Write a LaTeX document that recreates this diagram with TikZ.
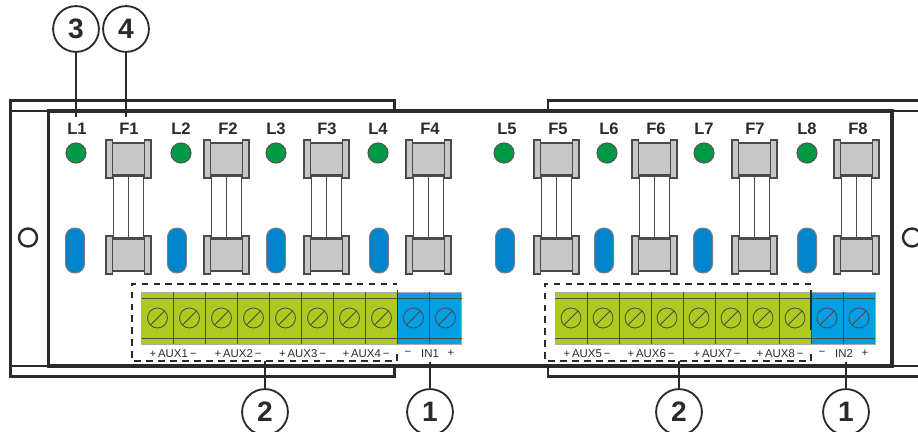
\documentclass[tikz,border=0pt]{standalone}
\usepackage{fontspec}
\setmainfont{Liberation Sans}
\definecolor{ink}{HTML}{2B2A29}
\definecolor{ledgreen}{HTML}{009A44}
\definecolor{pillblue}{HTML}{0085CC}
\definecolor{fusegray}{HTML}{C6C7C6}
\definecolor{termgreen}{HTML}{AFCA1E}
\definecolor{termblue}{HTML}{009FE3}
\tikzset{
  callout/.style={circle,draw=ink,line width=1.3pt,fill=white,minimum size=32.6pt,inner sep=0pt,font=\fontsize{20}{20}\selectfont\bfseries,text=ink},
  leader/.style={draw=ink,line width=1.2pt},
  thinframe/.style={draw=ink,line width=1.5pt},
  thickframe/.style={draw=ink,line width=2.6pt},
  tag/.style={font=\fontsize{11.8}{12}\selectfont\bfseries,text=ink,inner sep=0pt},
  small/.style={font=\fontsize{8.1}{8}\selectfont,text=ink,inner sep=0pt},
  led/.style={circle,draw=ink!80,line width=.8pt,fill=ledgreen,minimum size=14.2pt,inner sep=0pt},
  pill/.style={draw=ink!60,line width=.7pt,fill=pillblue,rounded corners=6.5pt},
  fusepart/.style={draw=ink!85,line width=1.2pt,fill=fusegray},
  tube/.style={draw=ink!85,line width=1.3pt,fill=white},
  cell/.style={draw=ink!85,line width=.6pt},
  screw/.style={draw=ink!85,line width=.6pt},
  dashbox/.style={draw=ink,line width=1.2pt,dash pattern=on 4.8pt off 3.7pt},
}
\begin{document}
\begin{tikzpicture}[x=.025cm,y=-.025cm]
	\useasboundingbox (0,0) rectangle (918,432);
	% housing
	\draw[thinframe](394.5,111)--(394.5,100.5)--(10.5,100.5)--(10.5,376.5)--(394.5,376.5)--(394.5,366);
	\draw[thinframe](918,100.5)--(548,100.5)--(548,111);
	\draw[thinframe](918,376.5)--(548,376.5)--(548,366);
	\draw[thinframe](10.5,111)--(48,111);
	\draw[thinframe](10.5,366)--(48,366);
	\draw[thinframe](892,111)--(918,111);
	\draw[thinframe](892,366)--(918,366);
	\draw[thickframe](48.5,366)--(48.5,111)--(892,111)--(892,366)--cycle;
	\draw[line width=1.7pt,draw=ink](28,237.5)circle(9);
	\draw[line width=1.7pt,draw=ink](912,237.5)circle(9);
	% fuses
	\foreach \x in {128.5,226.5,326.5,428.5,556.5,654.5,754.5,856.5}{
		\draw[tube](\x-15,176)rectangle(\x+15,238);
		\draw[draw=ink!85,line width=1.3pt](\x,176)--(\x,238);
		\foreach \y in {159,255}{
			\draw[fusepart](\x-16,\y-16)rectangle(\x+16,\y+16);
			\draw[fusepart](\x-22.5,\y-19)rectangle(\x-16,\y+19);
			\draw[fusepart](\x+16,\y-19)rectangle(\x+22.5,\y+19);
		}
	}
	% leds and pills
	\foreach \x/\n in {76/1,181/2,276/3,378/4,504/5,607/6,704/7,807/8}
		\node[led](led\n) at (\x,153){};
	\foreach \x in {75,177,276,379,505,604,703,807}
		\draw[pill](\x-9.5,228)rectangle(\x+9.5,273);
	% upper labels
	\foreach \x/\t in {77/L1,129/F1,181/L2,228/F2,276/L3,327/F3,378/L4,430/F4,507/L5,558/F5,609/L6,656/F6,704/L7,755/F7,807/L8,858/F8}
		\node[tag](tag\t) at (\x,129){\t};
	% terminal blocks
	\foreach \s in {141.5,555}{
		\fill[termgreen](\s,292)rectangle(\s+256,344);
		\fill[termblue](\s+256,292)rectangle(\s+320,344);
		\draw[cell,draw=ink!40](\s,292)rectangle(\s+320,344);
		\draw[cell](\s,298)--(\s+320,298);
		\draw[cell](\s,338)--(\s+320,338);
		\foreach \i in {1,...,9}
			\draw[cell](\s+32*\i,292)--(\s+32*\i,344);
		\foreach \i in {0,...,9}{
			\draw[screw](\s+16+32*\i,318)circle(10);
			\draw[screw](\s+9+32*\i,325)--(\s+23+32*\i,311);
		}
		\draw[line width=1.2pt,draw=ink](\s+256,290)--(\s+256,330);
	}
	% dashed groups
	\draw[dashbox](397,354)--(397,361)--(132,361)--(132,284)--(397,284);
	\draw[dashbox](811,354)--(811,361)--(545,361)--(545,284)--(811,284);
	% lower labels
	\foreach \x/\t in {173/1,238/2,302.5/3,366/4,587/5,651/6,717/7,780/8}
		\node[small](aux\t) at (\x,353.5){+\,AUX\t\,−};
	\node[small](minusa) at (408,353.5){−};
	\node[small](ina) at (430,353.5){IN1};
	\node[small](plusa) at (451,353.5){+};
	\node[small](minusb) at (822,353.5){−};
	\node[small](inb) at (844,353.5){IN2};
	\node[small](plusb) at (865,353.5){+};
	% callouts
	\node[callout](numc) at (76,29){3};
	\node[callout](numd) at (126,29){4};
	\node[callout](numbl) at (265,412){2};
	\node[callout](numal) at (430,412){1};
	\node[callout](numbr) at (679,412){2};
	\node[callout](numar) at (846,412){1};
	\coordinate(endc) at (76,117);
	\coordinate(endd) at (126,117);
	\coordinate(endbl) at (265,361);
	\coordinate(endal) at (430,362);
	\coordinate(endbr) at (679,361);
	\coordinate(endar) at (846,362);
	\foreach \a/\b in {numc/endc,numd/endd,numbl/endbl,numal/endal,numbr/endbr,numar/endar}
		\draw[leader](\a)--(\b);
\end{tikzpicture}
\end{document}
